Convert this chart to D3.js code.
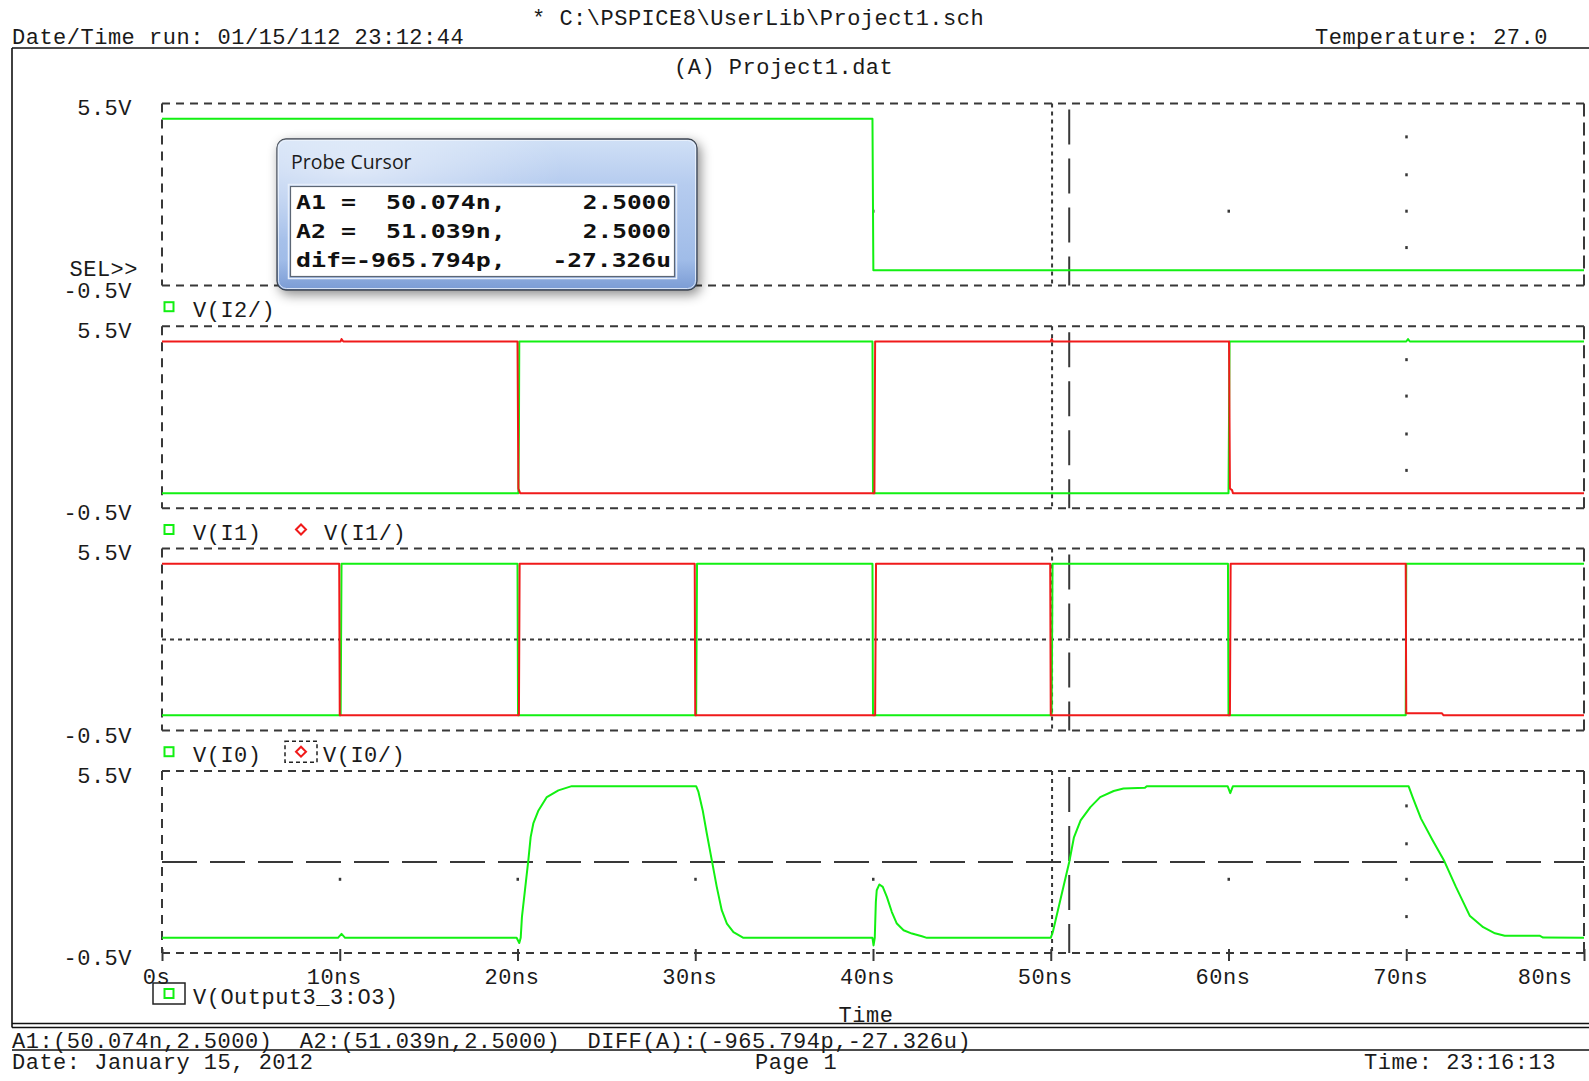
<!DOCTYPE html>
<html><head><meta charset="utf-8">
<script src="https://cdn.jsdelivr.net/npm/d3@7"></script>
<style>
html,body{margin:0;padding:0;background:#fff;}
svg{display:block;}
.mono{font-family:"Liberation Mono","Courier New",monospace;font-size:22px;letter-spacing:0.5px;fill:#1a1a1a;white-space:pre;}
</style></head><body>
<svg id="c" width="1589" height="1081"></svg>
<script>
// ---------------- data ----------------
const headerTitle = "* C:\\PSPICE8\\UserLib\\Project1.sch";
const runInfo = "Date/Time run: 01/15/112 23:12:44";
const temperature = "Temperature: 27.0";
const sectionTitle = "(A) Project1.dat";
const selMarker = "SEL>>";
const xTickValues = [0, 10, 20, 30, 40, 50, 60, 70, 80];
const xTickLabels = ["0s", "10ns", "20ns", "30ns", "40ns", "50ns", "60ns", "70ns", "80ns"];
const xAxisTitle = "Time";
const yExtent = [-0.5, 5.5];
const yTickLabels = ["-0.5V", "5.5V"];

// V(I2/)
const vI2bar = [[0,5],[39.97,5],[40.02,0],[80,0]];
// V(I1), V(I1/)
const vI1 = [[0,0],[20.05,0],[20.08,2.0],[20.1,5],[39.97,5],[40.0,0],[60.0,0],[60.03,2.5],[60.06,5],[70.0,5],[70.1,5.08],[70.2,5],[80,5]];
const vI1bar = [[0,5],[10.05,5],[10.1,5.08],[10.2,5],[20.0,5],[20.05,0.15],[20.15,0],[40.08,0],[40.12,5],[50.0,5],[50.05,5.08],[50.12,5],[60.03,5],[60.08,0.15],[60.2,0.1],[60.25,0],[80,0]];
// V(I0), V(I0/)
const vI0 = [[0,0],[10.05,0],[10.1,5],[20.0,5],[20.03,0],[30.05,0],[30.1,5],[39.97,5],[40.0,0],[50.05,0],[50.1,5],[59.97,5],[60.0,0],[69.97,0],[70.0,5],[80,5]];
const vI0bar = [[0,5],[9.97,5],[10.0,0],[20.08,0],[20.12,5],[29.97,5],[30.0,0],[40.12,0],[40.17,5],[49.97,5],[50.0,0],[60.08,0],[60.12,5],[69.97,5],[70.0,0.07],[72.0,0.07],[72.1,0],[80,0]];
// V(Output3_3:O3)
const vOut = [[0,0],[9.9,0],[10.1,0.13],[10.3,0],[19.95,0],[20.1,-0.17],[20.18,0],[20.25,0.69],[20.42,1.57],[20.61,2.56],[20.74,3.32],[20.89,3.77],[21.18,4.2],[21.65,4.64],[22.3,4.86],[23.05,5.0],[30.05,5.0],[30.18,4.81],[30.42,4.2],[30.65,3.44],[30.93,2.56],[31.21,1.68],[31.49,0.91],[31.78,0.47],[32.15,0.19],[32.71,0],[39.97,0],[40.03,-0.25],[40.1,0],[40.16,1.18],[40.21,1.57],[40.36,1.76],[40.55,1.68],[40.78,1.35],[41.06,0.85],[41.34,0.47],[41.72,0.25],[42.19,0.14],[42.75,0.05],[43.03,0],[50.0,0],[50.12,0.2],[51.04,2.5],[51.3,3.3],[51.68,3.87],[52.23,4.31],[52.78,4.64],[53.54,4.84],[54.09,4.92],[55.3,4.95],[55.4,5.0],[59.95,5.0],[60.1,4.77],[60.25,5.0],[70.13,5.0],[70.39,4.59],[70.83,3.93],[71.49,3.21],[72.14,2.53],[72.8,1.67],[73.57,0.73],[74.33,0.35],[74.99,0.15],[75.54,0.07],[77.5,0.07],[77.7,0.01],[80,0]];

// stray grid dots: [panel, time, volts]
const gridDots = [[0,40,1.95],[0,60,1.95],[0,70,4.4],[0,70,3.15],[0,70,1.95],[0,70,0.75],
  [1,70,4.4],[1,70,3.2],[1,70,1.95],[1,70,0.75],
  [3,10,1.93],[3,20,1.93],[3,30,1.93],[3,40,1.93],[3,60,1.93],[3,70,4.35],[3,70,3.1],[3,70,1.93],[3,70,0.7]];

const cursorA1 = [50.074, 2.5];
const cursorA2 = [51.039, 2.5];
const probeTitle = "Probe Cursor";
const probeLeft = ["A1 =  50.074n,", "A2 =  51.039n,", "dif=-965.794p,"];
const probeRight = ["2.5000", "2.5000", "-27.326u"];
const footerCursor = "A1:(50.074n,2.5000)  A2:(51.039n,2.5000)  DIFF(A):(-965.794p,-27.326u)";
const footerDate = "Date: January 15, 2012";
const footerPage = "Page 1";
const footerTime = "Time: 23:16:13";

// ---------------- drawing ----------------
const GREEN = "#12f012", RED = "#f01a1a", GRID = "#383838", INK = "#1a1a1a";
const svg = d3.select("#c");
svg.append("rect").attr("width",1589).attr("height",1081).attr("fill","#fff");

const x = d3.scaleLinear().domain([0, 80]).range([162, 1584]);
const panelTops = [103.5, 326.3, 548.5, 771];
const PH = 182;

const panels = [
  {traces:[{data:vI2bar,color:GREEN}], legend:[{label:"V(I2/)",sym:"square",sx:169,tx:193}], sel:true},
  {traces:[{data:vI1,color:GREEN},{data:vI1bar,color:RED}], legend:[{label:"V(I1)",sym:"square",sx:169,tx:193},{label:"V(I1/)",sym:"diamond",sx:301,tx:324}]},
  {traces:[{data:vI0,color:GREEN},{data:vI0bar,color:RED}], legend:[{label:"V(I0)",sym:"square",sx:169,tx:193},{label:"V(I0/)",sym:"diamond",sx:301,tx:323,boxed:true}], hCursor:{c:cursorA1,dash:"4,4"}},
  {traces:[{data:vOut,color:GREEN}], legend:[{label:"V(Output3_3:O3)",sym:"square",sx:169,tx:193,boxed:true,solidBox:true}], hCursor:{c:cursorA2,dash:"35,13"}, xAxis:true}
];

// frame
const frame = svg.append("g").attr("stroke","#111").attr("stroke-width",1.6).attr("fill","none");
frame.append("line").attr("x1",12).attr("x2",1589).attr("y1",48).attr("y2",48);
frame.append("line").attr("x1",12).attr("x2",12).attr("y1",48).attr("y2",1027.5);
frame.append("line").attr("x1",12).attr("x2",1589).attr("y1",1023.5).attr("y2",1023.5);
frame.append("line").attr("x1",12).attr("x2",1589).attr("y1",1027.5).attr("y2",1027.5);
frame.append("line").attr("x1",12).attr("x2",1589).attr("y1",1050).attr("y2",1050);

// header texts
svg.append("text").attr("class","mono").attr("x",532).attr("y",25).text(headerTitle);
svg.append("text").attr("class","mono").attr("x",12).attr("y",44).text(runInfo);
svg.append("text").attr("class","mono").attr("x",1315).attr("y",44).text(temperature);
svg.append("text").attr("class","mono").attr("x",674).attr("y",74).text(sectionTitle);

const line = d3.line().x(d => x(d[0]));

panels.forEach((p, i) => {
  const top = panelTops[i];
  const y = d3.scaleLinear().domain(yExtent).range([top + PH, top]);
  const g = svg.append("g");
  const gridG = g.append("g").attr("stroke",GRID).attr("stroke-width",2).attr("fill","none");
  [yExtent[1], yExtent[0]].forEach(v => {
    gridG.append("line").attr("x1",x(0)).attr("x2",x(80)).attr("y1",y(v)).attr("y2",y(v)).attr("stroke-dasharray","8,6");
  });
  gridG.append("line").attr("x1",x(0)).attr("x2",x(0)).attr("y1",y(yExtent[1])).attr("y2",y(yExtent[0])).attr("stroke-dasharray","9,7");
  gridG.append("line").attr("x1",x(80)).attr("x2",x(80)).attr("y1",y(yExtent[1])).attr("y2",y(yExtent[0])).attr("stroke-dasharray","13,6");

  gridDots.filter(d => d[0] === i).forEach(d => {
    g.append("rect").attr("x",x(d[1])-1).attr("y",y(d[2])-1.5).attr("width",2.5).attr("height",3).attr("fill",GRID);
  });

  g.append("line").attr("x1",x(cursorA1[0])).attr("x2",x(cursorA1[0])).attr("y1",y(yExtent[1])).attr("y2",y(yExtent[0]))
    .attr("stroke",GRID).attr("stroke-width",2).attr("stroke-dasharray","4,4");
  g.append("line").attr("x1",x(cursorA2[0])).attr("x2",x(cursorA2[0])).attr("y1",y(yExtent[1])+6).attr("y2",y(yExtent[0]))
    .attr("stroke",GRID).attr("stroke-width",2).attr("stroke-dasharray","35,14");
  if (p.hCursor) {
    g.append("line").attr("x1",x(0)).attr("x2",x(80)).attr("y1",y(p.hCursor.c[1])).attr("y2",y(p.hCursor.c[1]))
      .attr("stroke",GRID).attr("stroke-width",2).attr("stroke-dasharray",p.hCursor.dash);
  }

  p.traces.forEach(t => {
    g.append("path").datum(t.data).attr("d", line.y(d => y(d[1])))
      .attr("fill","none").attr("stroke",t.color).attr("stroke-width",2).attr("stroke-linejoin","round");
  });

  svg.append("text").attr("class","mono").attr("text-anchor","end").attr("x",132).attr("y",y(yExtent[1])+11.5).text(yTickLabels[1]);
  svg.append("text").attr("class","mono").attr("text-anchor","end").attr("x",132).attr("y",y(yExtent[0])+12).text(yTickLabels[0]);
  if (p.sel) {
    svg.append("text").attr("class","mono").attr("text-anchor","end").attr("x",138).attr("y",y(yExtent[0])-10).text(selMarker);
  }

  let legendBase = y(yExtent[0]) + 31.7;
  if (p.xAxis) {
    const ax = g.append("g").attr("transform",`translate(0,${y(yExtent[0])})`)
      .call(d3.axisBottom(x).tickValues(xTickValues).tickFormat((d, k) => xTickLabels[k]).tickSize(8).tickSizeOuter(0));
    ax.select(".domain").remove();
    ax.selectAll(".tick line").attr("stroke",GRID).attr("stroke-width",2).attr("y1",-4);
    ax.selectAll(".tick text").attr("class","mono").attr("fill",INK).attr("dy",0).attr("y",31).attr("x",-6)
      .style("font-family",'"Liberation Mono","Courier New",monospace').style("font-size","22px");
    ax.selectAll(".tick text").filter((d) => d === 80).attr("text-anchor","end").attr("x",-12);
    legendBase = 1004;
    svg.append("text").attr("class","mono").attr("text-anchor","middle").attr("x",866).attr("y",1022).text(xAxisTitle);
  }

  p.legend.forEach(L => {
    const cy = legendBase - 10.5;
    if (L.boxed) {
      g.append("rect").attr("x",L.sx-16).attr("y",cy-10.5).attr("width",32).attr("height",21)
        .attr("fill","none").attr("stroke","#222").attr("stroke-width",1.5)
        .attr("stroke-dasharray", L.solidBox ? null : "4,3");
    }
    if (L.sym === "square") {
      g.append("rect").attr("x",L.sx-4.5).attr("y",cy-4.5).attr("width",9).attr("height",9)
        .attr("fill","none").attr("stroke",GREEN).attr("stroke-width",2);
    } else {
      g.append("path").attr("d",`M${L.sx-5},${cy} L${L.sx},${cy-5} L${L.sx+5},${cy} L${L.sx},${cy+5} Z`)
        .attr("fill","none").attr("stroke",RED).attr("stroke-width",2);
    }
    svg.append("text").attr("class","mono").attr("x",L.tx).attr("y",legendBase).text(L.label);
  });
});

// footer
svg.append("text").attr("class","mono").attr("x",12).attr("y",1048).text(footerCursor);
svg.append("text").attr("class","mono").attr("x",12).attr("y",1069).text(footerDate);
svg.append("text").attr("class","mono").attr("x",755).attr("y",1069).text(footerPage);
svg.append("text").attr("class","mono").attr("x",1364).attr("y",1069).text(footerTime);

// ---------------- Probe Cursor window ----------------
const defs = svg.append("defs");
const flt = defs.append("filter").attr("id","shadow").attr("x","-10%").attr("y","-15%").attr("width","130%").attr("height","150%");
flt.append("feDropShadow").attr("dx",3).attr("dy",4).attr("stdDeviation",6).attr("flood-color","#000").attr("flood-opacity",0.45);
const gv = defs.append("linearGradient").attr("id","glassV").attr("x1",0).attr("y1",0).attr("x2",0).attr("y2",1);
[["0%","#d0e0f6"],["30%","#b6ccef"],["80%","#a0bce8"],["100%","#7a9bd4"]].forEach(s => gv.append("stop").attr("offset",s[0]).attr("stop-color",s[1]));
const gh = defs.append("radialGradient").attr("id","glare").attr("cx","0.18").attr("cy","0.2").attr("r","0.5");
gh.append("stop").attr("offset","0%").attr("stop-color","#ffffff").attr("stop-opacity",0.5);
gh.append("stop").attr("offset","100%").attr("stop-color","#ffffff").attr("stop-opacity",0);

const win = svg.append("g");
const wx = 277, wy = 139, ww = 420, wh = 151;
win.append("rect").attr("x",wx).attr("y",wy).attr("width",ww).attr("height",wh).attr("rx",9)
  .attr("fill","url(#glassV)").attr("stroke","#3c4450").attr("stroke-width",1.3).attr("filter","url(#shadow)");
win.append("rect").attr("x",wx).attr("y",wy).attr("width",ww).attr("height",wh).attr("rx",9).attr("fill","url(#glare)");
win.append("rect").attr("x",wx+1.5).attr("y",wy+1.5).attr("width",ww-3).attr("height",wh-3).attr("rx",8)
  .attr("fill","none").attr("stroke","#eef4fc").attr("stroke-opacity",0.8).attr("stroke-width",1);
win.append("text").attr("x",291).attr("y",169).attr("fill","#1c1c1c")
  .style("font-family",'"Open Sans","Noto Sans",sans-serif').style("font-size","19.5px").text(probeTitle);
win.append("rect").attr("x",288.5).attr("y",184.5).attr("width",388).attr("height",94)
  .attr("fill","none").attr("stroke","#e6eefa").attr("stroke-width",1.5);
win.append("rect").attr("x",290.5).attr("y",186.5).attr("width",384).attr("height",90)
  .attr("fill","#fff").attr("stroke","#5c6674").attr("stroke-width",1.2);
const rowBase = [209, 238, 267];
const CH = 15.2;
probeLeft.forEach((s, k) => {
  win.append("text").attr("x",296).attr("y",rowBase[k]).attr("fill","#111")
    .attr("textLength", s.length * CH - 3).attr("lengthAdjust","spacingAndGlyphs")
    .style("font-family",'"DejaVu Sans Mono",monospace').style("font-weight","bold").style("font-size","19px")
    .style("white-space","pre").text(s);
  const r = probeRight[k];
  win.append("text").attr("x",671 - (r.length * CH - 3)).attr("y",rowBase[k]).attr("fill","#111")
    .attr("textLength", r.length * CH - 3).attr("lengthAdjust","spacingAndGlyphs")
    .style("font-family",'"DejaVu Sans Mono",monospace').style("font-weight","bold").style("font-size","19px")
    .text(r);
});
</script>
</body></html>
